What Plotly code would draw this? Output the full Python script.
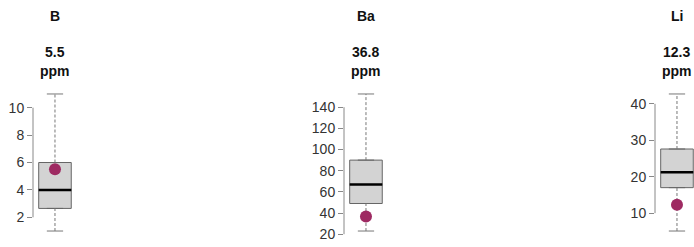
import plotly.graph_objects as go

# ---- data ----
elements = ["B", "Ba", "Li"]
sample_values = [5.5, 36.8, 12.3]
unit = "ppm"
lower_whisker = [1.0, 23.0, 5.1]
q1 = [2.65, 49.0, 17.0]
median = [4.0, 67.0, 21.2]
q3 = [6.0, 90.0, 27.6]
upper_whisker = [11.0, 152.5, 42.7]
tick_values = [[2, 4, 6, 8, 10], [20, 40, 60, 80, 100, 120, 140], [10, 20, 30, 40]]

# ---- layout constants ----
W, H = 694, 247
axis_px = [33, 344, 655]
px_per_unit = 40.7
panel_px = 44
top_px, bot_px = 88.5, 236.5
y_dom = [1 - bot_px / H, 1 - top_px / H]
FONT = "Liberation Sans, Arial, Helvetica, sans-serif"
GRAY = "#666666"
POINT = "#9e2a62"

fig = go.Figure()
layout = dict(
    width=W, height=H,
    margin=dict(l=0, r=0, t=0, b=0, pad=0, autoexpand=False),
    paper_bgcolor="white", plot_bgcolor="white",
    showlegend=False, hovermode=False,
)
annotations = []
shapes = []

for i, el in enumerate(elements):
    n = "" if i == 0 else str(i + 1)
    xa, ya = "x" + n, "y" + n
    d0 = axis_px[i] / W
    d1 = min(1.0, (axis_px[i] + panel_px) / W)
    xlo = 1 - 0.54
    xhi = xlo + (d1 - d0) * W / px_per_unit
    lo, hi = lower_whisker[i], upper_whisker[i]
    pad = (hi - lo) * 0.04

    layout["xaxis" + n] = dict(domain=[d0, d1], range=[xlo, xhi], visible=False,
                               anchor=ya, fixedrange=True, automargin=False)
    layout["yaxis" + n] = dict(domain=y_dom, range=[lo - pad, hi + pad], anchor=xa,
                               tickvals=tick_values[i], ticks="outside", ticklen=5,
                               tickcolor="#888888", tickwidth=1, showline=False,
                               showgrid=False, zeroline=False, automargin=False,
                               tickfont=dict(family=FONT, size=14, color="#333333"),
                               fixedrange=True)

    # whiskers (dashed)
    fig.add_trace(go.Scatter(x=[1, 1], y=[q3[i], hi], mode="lines", xaxis=xa, yaxis=ya,
                             line=dict(color="#777777", width=1, dash="3px,2px")))
    fig.add_trace(go.Scatter(x=[1, 1], y=[lo, q1[i]], mode="lines", xaxis=xa, yaxis=ya,
                             line=dict(color="#777777", width=1, dash="3px,2px")))
    # caps
    for v in (lo, hi):
        fig.add_trace(go.Scatter(x=[0.8, 1.2], y=[v, v], mode="lines", xaxis=xa, yaxis=ya,
                                 line=dict(color="#777777", width=1)))
    # box
    fig.add_trace(go.Box(x=[1], q1=[q1[i]], median=[median[i]], q3=[q3[i]],
                         lowerfence=[q1[i]], upperfence=[q3[i]], width=0.8,
                         fillcolor="#d3d3d3", line=dict(color=GRAY, width=1),
                         xaxis=xa, yaxis=ya, boxpoints=False))
    # median
    fig.add_trace(go.Scatter(x=[0.6, 1.4], y=[median[i], median[i]], mode="lines",
                             xaxis=xa, yaxis=ya, line=dict(color="black", width=2.5)))
    # sample point
    fig.add_trace(go.Scatter(x=[1], y=[sample_values[i]], mode="markers", xaxis=xa, yaxis=ya,
                             marker=dict(color=POINT, size=12, line=dict(width=0))))

    # axis line from first to last tick
    shapes.append(dict(type="line", xref=xa + " domain", yref=ya, x0=0, x1=0,
                       y0=min(tick_values[i]), y1=max(tick_values[i]),
                       line=dict(color="#888888", width=1)))

    # titles
    for txt, ypx in ((el, 16), (f"{sample_values[i]}", 52), (unit, 71)):
        annotations.append(dict(text=f"<b>{txt}</b>", xref=xa, x=1, yref="paper",
                                y=1 - ypx / H, yanchor="middle", xanchor="center",
                                showarrow=False,
                                font=dict(family=FONT, size=14, color="#111111")))

layout["annotations"] = annotations
layout["shapes"] = shapes
fig.update_layout(**layout)
fig.write_html(
    "out.html",
    config={"displayModeBar": False, "staticPlot": True},
    post_script="document.body.style.margin='0';document.body.style.overflow='hidden';",
)
